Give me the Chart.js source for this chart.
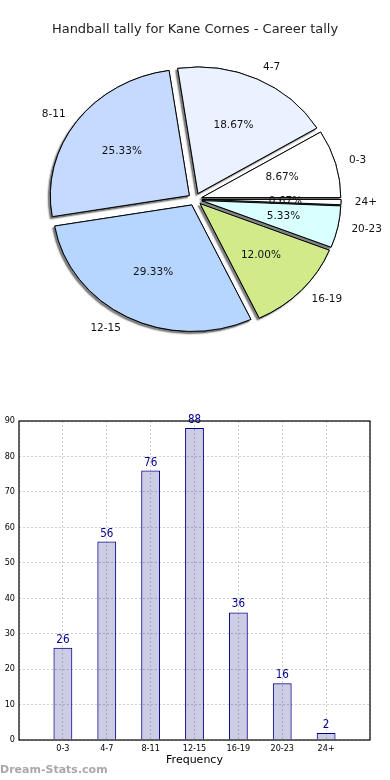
<!DOCTYPE html>
<html>
<head>
<meta charset="utf-8">
<script src="https://cdn.jsdelivr.net/npm/chart.js@4.4.1/dist/chart.umd.min.js"></script>
<style>
  body { margin: 0; background: #fff; width: 390px; height: 780px; position: relative; overflow: hidden; }
  canvas { position: absolute; left: 0; }
  #pie { top: 0; }
  #bars { top: 400px; }
  #mark { position: absolute; left: 0; top: 763px; font: bold 11px 'DejaVu Sans', sans-serif; color: #a8a8a8; }
</style>
</head>
<body>
<canvas id="pie" width="390" height="400"></canvas>
<canvas id="bars" width="390" height="380"></canvas>
<div id="mark">Dream-Stats.com</div>
<script>
// data
const categories = ['0-3', '4-7', '8-11', '12-15', '16-19', '20-23', '24+'];
const counts = [26, 56, 76, 88, 36, 16, 2];
const yTicks = [0, 10, 20, 30, 40, 50, 60, 70, 80, 90];
const pieColors = ['#ffffff', '#eaf1ff', '#c6d9ff', '#b6d6ff', '#d1eb8b', '#d9ffff', '#ffffff'];

const total = counts.reduce((a, b) => a + b, 0);
const FONT = "'DejaVu Sans', sans-serif";
const NARROW = "'DejaVu Sans Condensed', 'DejaVu Sans', sans-serif";
Chart.defaults.font.family = FONT;
Chart.defaults.animation = false;

// matplotlib draws counter-clockwise from 3 o'clock, chart.js clockwise -> reverse
const pieLabels = categories.slice().reverse();
const pieValues = counts.slice().reverse();
const pieFills = pieColors.slice().reverse();

const SY = 0.91;      // the reference pie is squashed vertically
const EXPLODE = 7;

const explodedPie = {
  id: 'explodedPie',
  beforeDatasetDraw(chart, args) {
    const ctx = chart.ctx;
    const arcs = args.meta.data;
    const cx = arcs[0].x, cy = arcs[0].y;
    const place = (arc) => {
      const mid = (arc.startAngle + arc.endAngle) / 2;
      ctx.translate(cx, cy);
      ctx.scale(1, SY);
      ctx.translate(-cx, -cy);
      ctx.translate(EXPLODE * Math.cos(mid), EXPLODE * Math.sin(mid));
    };
    // shadows first, then the wedges
    arcs.forEach(arc => {
      ctx.save();
      place(arc);
      ctx.shadowColor = 'rgba(0,0,0,0.5)';
      ctx.shadowOffsetX = -2;
      ctx.shadowOffsetY = 2;
      ctx.shadowBlur = 1.5;
      arc.draw(ctx);
      ctx.restore();
    });
    arcs.forEach(arc => {
      ctx.save();
      place(arc);
      arc.draw(ctx);
      ctx.restore();
    });
    return false;
  },
  afterDatasetsDraw(chart) {
    const ctx = chart.ctx;
    const arcs = chart.getDatasetMeta(0).data;
    ctx.save();
    ctx.font = '10.5px ' + FONT;
    ctx.fillStyle = '#111';
    ctx.textBaseline = 'middle';
    arcs.forEach((arc, i) => {
      const mid = (arc.startAngle + arc.endAngle) / 2;
      const R = arc.outerRadius;
      const c = Math.cos(mid), s = Math.sin(mid);
      const lr = EXPLODE + 1.1 * R;
      ctx.textAlign = c >= 0 ? 'left' : 'right';
      ctx.fillText(pieLabels[i], arc.x + lr * c, arc.y + SY * lr * s);
      const pr = EXPLODE + 0.6 * R;
      ctx.textAlign = 'center';
      ctx.fillText((pieValues[i] / total * 100).toFixed(2) + '%', arc.x + pr * c, arc.y + SY * pr * s);
    });
    ctx.restore();
  }
};

new Chart(document.getElementById('pie'), {
  type: 'pie',
  data: {
    labels: pieLabels,
    datasets: [{ data: pieValues, backgroundColor: pieFills, borderColor: '#000', borderWidth: 1 }]
  },
  options: {
    responsive: false,
    events: [],
    rotation: 90,
    radius: 139,
    layout: { padding: { left: 0, right: 0, top: 0, bottom: 39 } },
    plugins: {
      legend: { display: false },
      tooltip: { enabled: false },
      title: {
        display: true, text: 'Handball tally for Kane Cornes - Career tally',
        color: '#222', font: { size: 13, weight: 'normal' }, padding: { top: 22, bottom: 0 }
      }
    }
  },
  plugins: [explodedPie]
});

const frameAndValues = {
  id: 'frameAndValues',
  beforeDatasetsDraw(chart) {
    const { ctx, chartArea: a } = chart;
    ctx.save();
    ctx.strokeStyle = '#000';
    ctx.lineWidth = 1.2;
    ctx.strokeRect(a.left, a.top, a.right - a.left, a.bottom - a.top);
    ctx.restore();
  },
  afterDatasetsDraw(chart) {
    const ctx = chart.ctx;
    ctx.save();
    ctx.font = '11.5px ' + NARROW;
    ctx.fillStyle = '#00008b';
    ctx.textAlign = 'center';
    ctx.textBaseline = 'alphabetic';
    chart.getDatasetMeta(0).data.forEach((bar, i) => {
      ctx.fillText(String(counts[i]), bar.x, bar.y - 5);
    });
    ctx.restore();
  }
};

const gridStyle = { color: '#cfcfcf', drawTicks: false, offset: false, lineWidth: 1 };

new Chart(document.getElementById('bars'), {
  type: 'bar',
  data: {
    datasets: [{
      data: counts.map((v, i) => ({ x: i, y: v })),
      backgroundColor: 'rgba(0,0,120,0.2)',
      borderColor: '#00008b',
      borderWidth: 1,
      barPercentage: 0.43,
      categoryPercentage: 1
    }]
  },
  options: {
    responsive: false,
    events: [],
    layout: { padding: { left: 0, right: 20, top: 21, bottom: 0 } },
    plugins: { legend: { display: false }, tooltip: { enabled: false } },
    scales: {
      x: {
        type: 'linear', min: -1, max: categories.length, offset: false,
        grid: gridStyle,
        border: { display: false, dash: [2, 2] },
        ticks: {
          stepSize: 1, autoSkip: false, maxRotation: 0, padding: 3,
          color: '#000', font: { size: 9, family: NARROW },
          callback: v => categories[v] || ''
        },
        title: { display: true, text: 'Frequency', color: '#000', font: { size: 11 }, padding: { top: 0, bottom: 13 } },
        afterFit: s => { s.height = 40; }
      },
      y: {
        min: yTicks[0], max: yTicks[yTicks.length - 1],
        grid: gridStyle,
        border: { display: false, dash: [2, 2] },
        ticks: { stepSize: yTicks[1] - yTicks[0], padding: 4, color: '#000', font: { size: 9, family: NARROW } },
        afterFit: s => { s.width = 19; }
      }
    }
  },
  plugins: [frameAndValues]
});
</script>
</body>
</html>
